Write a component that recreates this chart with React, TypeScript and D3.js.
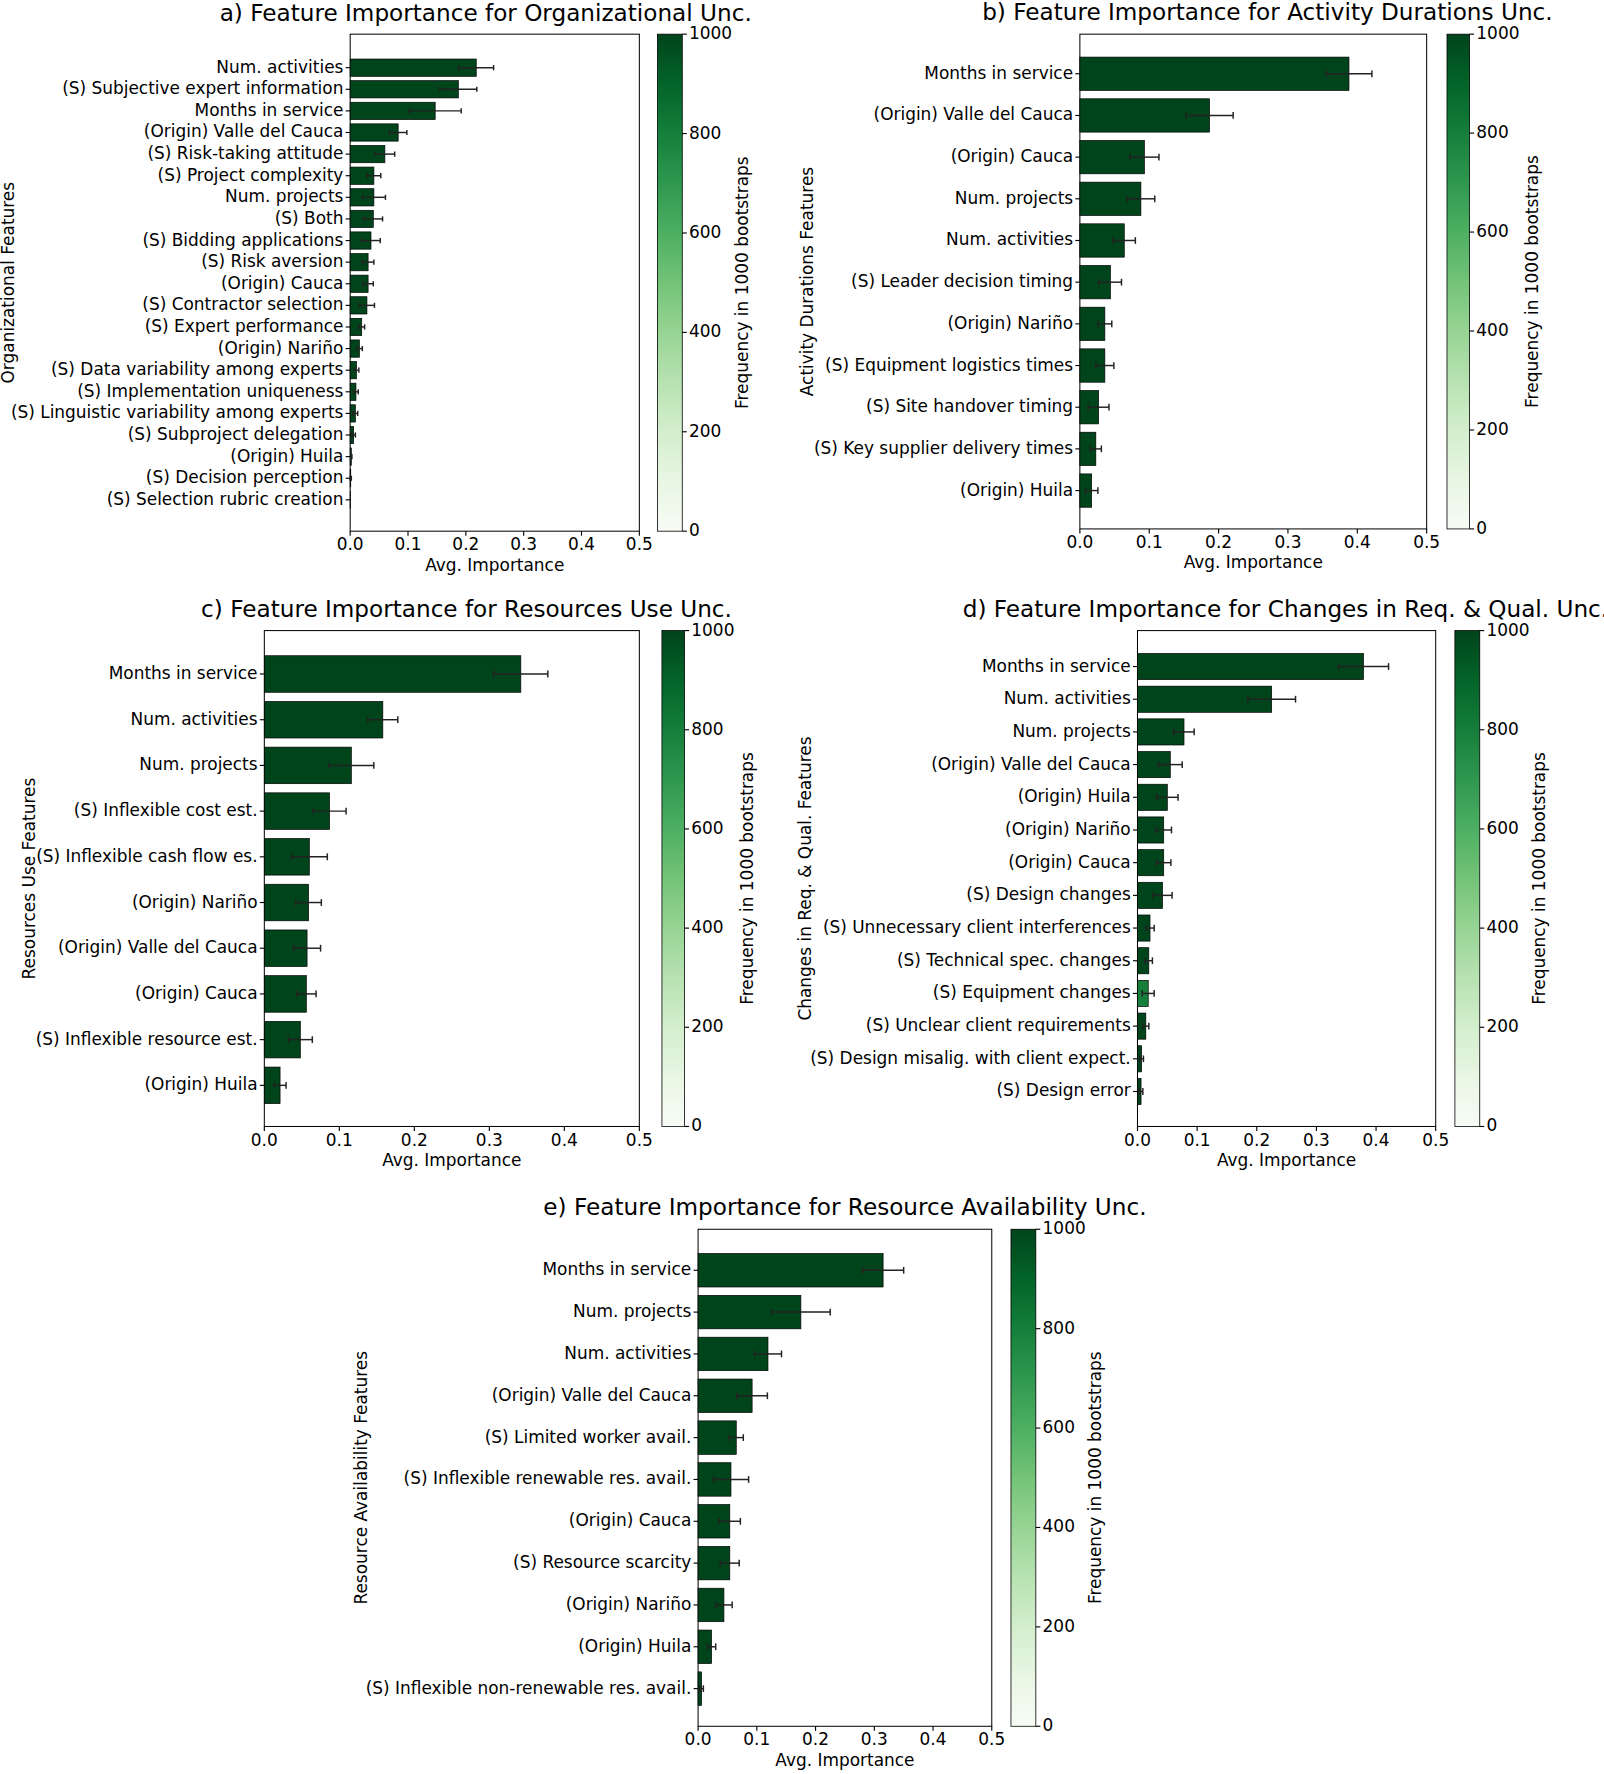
import React from "react";
import * as d3 from "d3";

const aNames = ["Num. activities","(S) Subjective expert information","Months in service","(Origin) Valle del Cauca","(S) Risk-taking attitude","(S) Project complexity","Num. projects","(S) Both","(S) Bidding applications","(S) Risk aversion","(Origin) Cauca","(S) Contractor selection","(S) Expert performance","(Origin) Nariño","(S) Data variability among experts","(S) Implementation uniqueness","(S) Linguistic variability among experts","(S) Subproject delegation","(Origin) Huila","(S) Decision perception","(S) Selection rubric creation"];
const aVals = [0.218,0.187,0.147,0.083,0.06,0.041,0.041,0.04,0.036,0.031,0.031,0.029,0.02,0.016,0.011,0.01,0.009,0.006,0.002,0.001,0.0003];
const aErr = [0.03,0.032,0.045,0.015,0.017,0.012,0.02,0.016,0.016,0.01,0.009,0.013,0.005,0.005,0.004,0.004,0.004,0.003,0.001,0.001,0];
const aFreq = aVals.map(() => 1000);

const bNames = ["Months in service","(Origin) Valle del Cauca","(Origin) Cauca","Num. projects","Num. activities","(S) Leader decision timing","(Origin) Nariño","(S) Equipment logistics times","(S) Site handover timing","(S) Key supplier delivery times","(Origin) Huila"];
const bVals = [0.388,0.187,0.093,0.088,0.064,0.044,0.036,0.036,0.027,0.023,0.017];
const bErr = [0.033,0.034,0.021,0.02,0.016,0.016,0.01,0.013,0.015,0.008,0.009];
const bFreq = bVals.map(() => 1000);

const cNames = ["Months in service","Num. activities","Num. projects","(S) Inflexible cost est.","(S) Inflexible cash flow es.","(Origin) Nariño","(Origin) Valle del Cauca","(Origin) Cauca","(S) Inflexible resource est.","(Origin) Huila"];
const cVals = [0.342,0.158,0.116,0.087,0.06,0.059,0.057,0.056,0.048,0.021];
const cErr = [0.036,0.02,0.03,0.022,0.024,0.017,0.018,0.013,0.016,0.008];
const cFreq = cVals.map(() => 1000);

const dNames = ["Months in service","Num. activities","Num. projects","(Origin) Valle del Cauca","(Origin) Huila","(Origin) Nariño","(Origin) Cauca","(S) Design changes","(S) Unnecessary client interferences","(S) Technical spec. changes","(S) Equipment changes","(S) Unclear client requirements","(S) Design misalig. with client expect.","(S) Design error"];
const dVals = [0.379,0.225,0.078,0.055,0.05,0.044,0.044,0.042,0.021,0.019,0.018,0.014,0.007,0.006];
const dErr = [0.042,0.04,0.017,0.02,0.018,0.013,0.012,0.016,0.007,0.006,0.01,0.005,0.003,0.003];
const dFreq = [1000,1000,1000,1000,1000,1000,1000,1000,1000,1000,800,1000,1000,1000];

const eNames = ["Months in service","Num. projects","Num. activities","(Origin) Valle del Cauca","(S) Limited worker avail.","(S) Inflexible renewable res. avail.","(Origin) Cauca","(S) Resource scarcity","(Origin) Nariño","(Origin) Huila","(S) Inflexible non-renewable res. avail."];
const eVals = [0.315,0.175,0.119,0.092,0.065,0.056,0.054,0.054,0.044,0.023,0.006];
const eErr = [0.035,0.05,0.023,0.026,0.012,0.03,0.018,0.016,0.014,0.007,0.003];
const eFreq = eVals.map(() => 1000);

const xTicks = [0, 0.1, 0.2, 0.3, 0.4, 0.5];
const cbTicks = [0, 200, 400, 600, 800, 1000];

const FONT = "DejaVu Sans";
const FS = 15;
const color = (f: number) => d3.interpolateGreens(f / 1000);

type P = {
  id: string; title: string; ylabel: string; names: string[]; vals: number[]; err: number[]; freq: number[];
  x0: number; x1: number; y0: number; y1: number; cbx: number; cbw: number; ylx: number; cblx: number;
  tx: number; ty: number; padT: number; padB: number;
};

function Panel(p: P) {
  const n = p.names.length;
  const x = d3.scaleLinear().domain([0, 0.5]).range([p.x0, p.x1]);
  const y = d3.scaleLinear().domain([-p.padT, n - 1 + p.padB]).range([p.y0, p.y1]);
  const bh = (y(1) - y(0)) * 0.8;
  const cb = d3.scaleLinear().domain([0, 1000]).range([p.y1, p.y0]);
  const gid = "g" + p.id;
  const cap = Math.min(3, bh * 0.15);
  return (
    <g fontFamily={FONT}>
      <defs>
        <linearGradient id={gid} x1="0" y1="1" x2="0" y2="0">
          {d3.range(0, 1.001, 0.1).map((t) => (
            <stop key={t} offset={t} stopColor={d3.interpolateGreens(t)} />
          ))}
        </linearGradient>
      </defs>
      <text x={p.tx} y={p.ty} fontSize={20.5} textAnchor="middle" dominantBaseline="middle">{p.title}</text>
      <rect x={p.x0} y={p.y0} width={p.x1 - p.x0} height={p.y1 - p.y0} fill="white" stroke="black" strokeWidth={0.9} />
      {p.names.map((nm, i) => (
        <g key={nm}>
          <rect x={x(0)} y={y(i) - bh / 2} width={x(p.vals[i]) - x(0)} height={bh} fill={color(p.freq[i])} stroke="black" strokeWidth={0.6} />
          {p.err[i] > 0 && (
            <g stroke="#222" strokeWidth={1.3}>
              <line x1={x(Math.max(0, p.vals[i] - p.err[i]))} x2={x(p.vals[i] + p.err[i])} y1={y(i)} y2={y(i)} />
              <line x1={x(p.vals[i] + p.err[i])} x2={x(p.vals[i] + p.err[i])} y1={y(i) - cap} y2={y(i) + cap} />
              <line x1={x(Math.max(0, p.vals[i] - p.err[i]))} x2={x(Math.max(0, p.vals[i] - p.err[i]))} y1={y(i) - cap} y2={y(i) + cap} />
            </g>
          )}
          <line x1={p.x0 - 4} x2={p.x0} y1={y(i)} y2={y(i)} stroke="black" />
          <text x={p.x0 - 6} y={y(i)} fontSize={FS} textAnchor="end" dominantBaseline="middle">{nm}</text>
        </g>
      ))}
      {xTicks.map((t) => (
        <g key={t}>
          <line x1={x(t)} x2={x(t)} y1={p.y1} y2={p.y1 + 4} stroke="black" />
          <text x={x(t)} y={p.y1 + 17} fontSize={FS} textAnchor="middle">{t.toFixed(1)}</text>
        </g>
      ))}
      <text x={(p.x0 + p.x1) / 2} y={p.y1 + 35} fontSize={FS} textAnchor="middle">Avg. Importance</text>
      <text transform={`translate(${p.ylx},${(p.y0 + p.y1) / 2}) rotate(-90)`} fontSize={FS} textAnchor="middle">{p.ylabel}</text>
      <rect x={p.cbx} y={p.y0} width={p.cbw} height={p.y1 - p.y0} fill={`url(#${gid})`} stroke="black" strokeWidth={0.7} />
      {cbTicks.map((t) => (
        <g key={t}>
          <line x1={p.cbx + p.cbw} x2={p.cbx + p.cbw + 4} y1={cb(t)} y2={cb(t)} stroke="black" />
          <text x={p.cbx + p.cbw + 6} y={cb(t)} fontSize={FS} dominantBaseline="middle">{t}</text>
        </g>
      ))}
      <text transform={`translate(${p.cblx},${(p.y0 + p.y1) / 2}) rotate(-90)`} fontSize={FS} textAnchor="middle">Frequency in 1000 bootstraps</text>
    </g>
  );
}

export default function App() {
  const panels: P[] = [
    { id: "a", title: "a) Feature Importance for Organizational Unc.", ylabel: "Organizational Features", names: aNames, vals: aVals, err: aErr, freq: aFreq,
      x0: 310, x1: 566, y0: 30, y1: 470, cbx: 582, cbw: 22, ylx: 12, cblx: 662, tx: 430, ty: 13, padT: 1.55, padB: 1.45 },
    { id: "b", title: "b) Feature Importance for Activity Durations Unc.", ylabel: "Activity Durations Features", names: bNames, vals: bVals, err: bErr, freq: bFreq,
      x0: 956, x1: 1263, y0: 30, y1: 468, cbx: 1281, cbw: 20, ylx: 720, cblx: 1362, tx: 1122, ty: 12, padT: 0.95, padB: 0.92 },
    { id: "c", title: "c) Feature Importance for Resources Use Unc.", ylabel: "Resources Use Features", names: cNames, vals: cVals, err: cErr, freq: cFreq,
      x0: 234, x1: 566, y0: 558, y1: 997, cbx: 586, cbw: 20, ylx: 31, cblx: 667, tx: 413, ty: 540, padT: 0.95, padB: 0.9 },
    { id: "d", title: "d) Feature Importance for Changes in Req. & Qual. Unc.", ylabel: "Changes in Req. & Qual. Features", names: dNames, vals: dVals, err: dErr, freq: dFreq,
      x0: 1007, x1: 1271, y0: 558, y1: 997, cbx: 1288, cbw: 22, ylx: 718, cblx: 1368, tx: 1138, ty: 540, padT: 1.1, padB: 1.07 },
    { id: "e", title: "e) Feature Importance for Resource Availability Unc.", ylabel: "Resource Availability Features", names: eNames, vals: eVals, err: eErr, freq: eFreq,
      x0: 618, x1: 878, y0: 1088, y1: 1528, cbx: 895, cbw: 22, ylx: 325, cblx: 975, tx: 748, ty: 1070, padT: 0.98, padB: 0.9 },
  ];
  return (
    <svg width={1604} height={1774} viewBox="0 0 1420 1570" style={{ position: "absolute", left: 0, top: 0, background: "white" }}>
      <rect width={1420} height={1570} fill="white" />
      {panels.map((p) => <Panel key={p.id} {...p} />)}
    </svg>
  );
}
